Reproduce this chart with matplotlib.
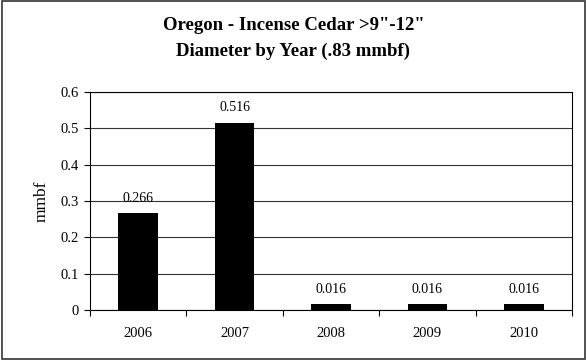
import matplotlib.pyplot as plt
from matplotlib.patches import Rectangle

plt.rcParams['font.family'] = 'Liberation Serif'

years = ['2006', '2007', '2008', '2009', '2010']
values = [0.266, 0.516, 0.016, 0.016, 0.016]
value_labels = ['0.266', '0.516', '0.016', '0.016', '0.016']

fig = plt.figure(figsize=(5.87, 3.6), dpi=100)
ax = fig.add_axes([90 / 587, 1 - 310 / 360, 482 / 587, 218 / 360])

x = range(len(years))
ax.bar(x, values, width=0.41, color='black', zorder=3)

# value labels above bars
for xi, v, lab in zip(x, values, value_labels):
    ax.annotate(lab, (xi, v), xytext=(0, 6), textcoords='offset points',
                ha='center', va='bottom', fontsize=10)

ax.set_xlim(-0.5, len(years) - 0.5)
ax.set_ylim(0, 0.6)
ax.set_yticks([0, 0.1, 0.2, 0.3, 0.4, 0.5, 0.6])
ax.set_yticklabels(['0', '0.1', '0.2', '0.3', '0.4', '0.5', '0.6'], fontsize=10.5)
ax.set_xticks(list(x))
ax.set_xticklabels(years, fontsize=10.5)
ax.set_xticks([i + 0.5 for i in range(-1, len(years))], minor=True)
ax.tick_params(axis='x', which='major', length=0, pad=12)
ax.tick_params(axis='x', which='minor', length=4, width=0.8, direction='out')
ax.tick_params(axis='y', length=4, width=0.8, direction='out', pad=4)
ax.yaxis.grid(True, color='#333333', linewidth=0.8, zorder=0)
for s in ax.spines.values():
    s.set_linewidth(0.8)
ax.set_ylabel('mmbf', fontsize=12.5, labelpad=8)

fig.text(0.5, 1 - 26 / 360, 'Oregon - Incense Cedar >9"-12"', ha='center', va='center',
         fontsize=13.5, fontweight='bold')
fig.text(0.5, 1 - 51 / 360, 'Diameter by Year (.83 mmbf)', ha='center', va='center',
         fontsize=13.5, fontweight='bold')

# outer border
fig.patches.append(Rectangle((0.004, 0.004), 0.992, 0.992, transform=fig.transFigure,
                             fill=False, edgecolor='#333333', linewidth=1.2))

plt.savefig('out.png', dpi=100)
